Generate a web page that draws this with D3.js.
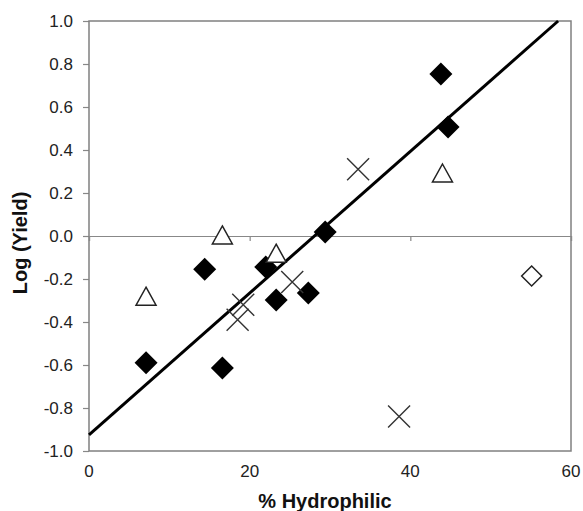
<!DOCTYPE html>
<html>
<head>
<meta charset="utf-8">
<script src="https://cdn.jsdelivr.net/npm/d3@7"></script>
<style>
  body { margin: 0; background: #fff; }
  svg text { font-family: "Liberation Sans", Arial, sans-serif; }
</style>
</head>
<body>
<div id="chart"></div>
<script>
// series values
var filledX = [7.1, 14.4, 16.6, 22.0, 23.3, 27.3, 29.4, 43.8, 44.7];
var filledY = [-0.59, -0.155, -0.614, -0.144, -0.298, -0.265, 0.019, 0.753, 0.507];

var triX = [7.1, 16.6, 23.3, 44.0];
var triY = [-0.28, 0.005, -0.08, 0.293];

var crossX = [33.5, 25.3, 19.2, 18.5, 38.6];
var crossY = [0.31, -0.214, -0.32, -0.39, -0.84];

var openX = [55.1];
var openY = [-0.186];

// trend line end points
var fitX = [0, 58.4];
var fitY = [-0.925, 1.0];

var xTicks = [0, 20, 40, 60];
var yTicks = [-1.0, -0.8, -0.6, -0.4, -0.2, 0.0, 0.2, 0.4, 0.6, 0.8, 1.0];

var width = 583, height = 511;
var margin = {top: 21, right: 12, bottom: 60, left: 89};
var w = width - margin.left - margin.right,
    h = height - margin.top - margin.bottom;

var svg = d3.select('#chart').append('svg')
    .attr('width', width)
    .attr('height', height)
  .append('g')
    .attr('transform', 'translate(' + margin.left + ',' + margin.top + ')');

var x = d3.scaleLinear().domain([0, 60]).range([0, w]);
var y = d3.scaleLinear().domain([-1, 1]).range([h, 0]);

function pts(xs, ys) {
    return xs.map(function(v, i) { return {x: v, y: ys[i]}; });
}

// y axis with labels
var yAxis = svg.append('g')
    .call(d3.axisLeft(y).tickValues(yTicks).tickSize(6).tickPadding(10)
        .tickFormat(d3.format('.1f')));
yAxis.select('.domain').remove();
yAxis.selectAll('line').attr('stroke', '#888').attr('stroke-width', 1.2);
yAxis.selectAll('text').attr('font-size', 17).attr('fill', '#222')
    .text(function(d) { return d3.format('.1f')(d).replace('−', '-'); });

// x tick labels at the bottom
svg.append('g')
    .attr('transform', 'translate(0,' + h + ')')
    .selectAll('text')
    .data(xTicks).enter().append('text')
    .attr('x', function(d) { return x(d); })
    .attr('y', 26)
    .attr('text-anchor', 'middle')
    .attr('font-size', 17)
    .attr('fill', '#222')
    .text(function(d) { return d; });

// plot frame
svg.append('rect')
    .attr('width', w).attr('height', h)
    .attr('fill', 'none')
    .attr('stroke', '#808080')
    .attr('stroke-width', 1.5);

// zero line with its ticks (axis crosses at 0)
var xAxis = svg.append('g')
    .attr('transform', 'translate(0,' + y(0) + ')')
    .call(d3.axisBottom(x).tickValues(xTicks).tickSize(5).tickFormat(''));
xAxis.select('.domain').attr('stroke', '#888').attr('stroke-width', 1.2);
xAxis.selectAll('line').attr('stroke', '#888').attr('stroke-width', 1.2);

// trend line
svg.append('path')
    .datum(pts(fitX, fitY))
    .attr('fill', 'none')
    .attr('stroke', '#000')
    .attr('stroke-width', 3)
    .attr('d', d3.line().x(function(d) { return x(d.x); }).y(function(d) { return y(d.y); }));

// filled diamonds
var diamond = 'M0,-11.5L11.5,0L0,11.5L-11.5,0Z';
svg.selectAll('.filled')
    .data(pts(filledX, filledY)).enter().append('path')
    .attr('class', 'filled')
    .attr('d', diamond)
    .attr('fill', '#000')
    .attr('transform', function(d) { return 'translate(' + x(d.x) + ',' + y(d.y) + ')'; });

// open triangles
svg.selectAll('.tri')
    .data(pts(triX, triY)).enter().append('path')
    .attr('class', 'tri')
    .attr('d', 'M0,-9L10,9L-10,9Z')
    .attr('fill', '#fff')
    .attr('stroke', '#222')
    .attr('stroke-width', 1.5)
    .attr('transform', function(d) { return 'translate(' + x(d.x) + ',' + y(d.y) + ')'; });

// crosses
svg.selectAll('.cross')
    .data(pts(crossX, crossY)).enter().append('path')
    .attr('class', 'cross')
    .attr('d', 'M-11,-11L11,11M-11,11L11,-11')
    .attr('fill', 'none')
    .attr('stroke', '#333')
    .attr('stroke-width', 1.4)
    .attr('transform', function(d) { return 'translate(' + x(d.x) + ',' + y(d.y) + ')'; });

// open diamond
svg.selectAll('.open')
    .data(pts(openX, openY)).enter().append('path')
    .attr('class', 'open')
    .attr('d', 'M0,-10L10,0L0,10L-10,0Z')
    .attr('fill', '#fff')
    .attr('stroke', '#222')
    .attr('stroke-width', 1.5)
    .attr('transform', function(d) { return 'translate(' + x(d.x) + ',' + y(d.y) + ')'; });

// axis titles
svg.append('text')
    .attr('transform', 'translate(' + (-62) + ',' + (h / 2 + 7) + ') rotate(-90)')
    .attr('text-anchor', 'middle')
    .attr('font-size', 20)
    .attr('font-weight', 'bold')
    .attr('fill', '#111')
    .text('Log (Yield)');

svg.append('text')
    .attr('x', w / 2 - 5)
    .attr('y', h + 57)
    .attr('text-anchor', 'middle')
    .attr('font-size', 20)
    .attr('font-weight', 'bold')
    .attr('fill', '#111')
    .text('% Hydrophilic');
</script>
</body>
</html>
